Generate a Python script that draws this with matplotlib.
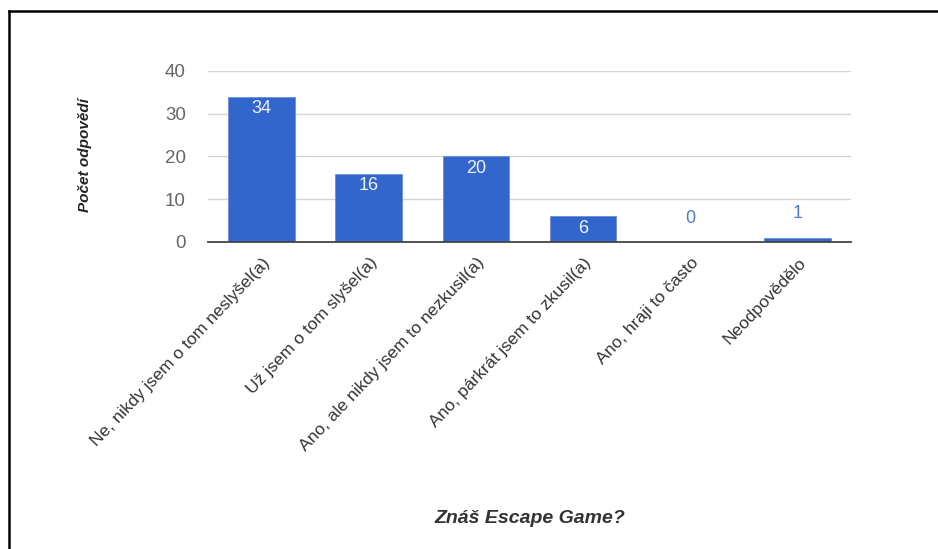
import matplotlib
matplotlib.use("Agg")
import matplotlib.pyplot as plt
from matplotlib import font_manager
from matplotlib.lines import Line2D
from matplotlib.transforms import ScaledTranslation

# Data
categories = [
    "Ne, nikdy jsem o tom neslyšel(a)",
    "Už jsem o tom slyšel(a)",
    "Ano, ale nikdy jsem to nezkusil(a)",
    "Ano, párkrát jsem to zkusil(a)",
    "Ano, hraji to často",
    "Neodpovědělo",
]
counts = [34, 16, 20, 6, 0, 1]
y_ticks = [0, 10, 20, 30, 40]

x_title = "Znáš Escape Game?"
y_title = "Počet odpovědí"

# Fonts
installed = {f.name for f in font_manager.fontManager.ttflist}
narrow = "Liberation Sans Narrow" if "Liberation Sans Narrow" in installed else "Liberation Sans"
plt.rcParams['font.family'] = ['Liberation Sans', 'DejaVu Sans']

bar_color = "#3366cc"

fig = plt.figure(figsize=(9.38, 5.49), dpi=100)
ax = fig.add_axes([0.2217, 0.5592, 0.6855, 0.3115])

xs = list(range(len(categories)))
bars = ax.bar(xs, counts, width=0.62, color=bar_color, edgecolor="#6a8fdc", linewidth=0.6, zorder=3)

ax.set_xlim(-0.5, len(categories) - 0.5)
ax.set_ylim(0, 40)
ax.set_yticks(y_ticks)
ax.tick_params(axis='y', length=0, pad=16, labelsize=13.5, labelcolor="#666666")
ax.grid(axis='y', color="#d4d4d4", linewidth=1.0, zorder=0)
for side in ['top', 'right', 'left']:
    ax.spines[side].set_visible(False)
ax.spines['bottom'].set_color("#444444")
ax.spines['bottom'].set_linewidth(1.3)
ax.spines['bottom'].set_zorder(4)

ax.set_xticks(xs)
ax.set_xticklabels(categories, rotation=46.5, ha='right', va='center',
                   rotation_mode='anchor', fontsize=12.6, color="#333333",
                   family=[narrow, 'DejaVu Sans'])
ax.tick_params(axis='x', length=0, pad=13)
shift = ScaledTranslation(6 / 100, 0, fig.dpi_scale_trans)
for lbl in ax.get_xticklabels():
    lbl.set_transform(lbl.get_transform() + shift)

# value labels
for x, v in zip(xs, counts):
    if v >= 5:
        ax.annotate(str(v), (x, v), xytext=(0, -2.5), textcoords='offset points',
                    ha='center', va='top', fontsize=13, color="#eef2fb", zorder=5)
    else:
        ax.annotate(str(v), (x, v), xytext=(0, 11), textcoords='offset points',
                    ha='center', va='bottom', fontsize=13, color="#4d7bd6", zorder=5)

fig.text(0.091, 0.7177, y_title, rotation=90, ha='center', va='center',
         fontsize=11, fontweight='bold', style='italic', color="#222222",
         family=[narrow, 'DejaVu Sans'])
fig.text(0.565, 0.055, x_title, ha='center', va='center',
         fontsize=14, fontweight='bold', style='italic', color="#333333",
         family=[narrow, 'DejaVu Sans'])

# frame lines (top and left)
top_y = 1 - 10.5 / 549
left_x = 8.5 / 938
fig.add_artist(Line2D([left_x, 1.0], [top_y, top_y], color='black', linewidth=1.8,
                      transform=fig.transFigure))
fig.add_artist(Line2D([left_x, left_x], [0, top_y], color='black', linewidth=1.8,
                      transform=fig.transFigure))

fig.savefig("out.png", dpi=100, facecolor='white')
